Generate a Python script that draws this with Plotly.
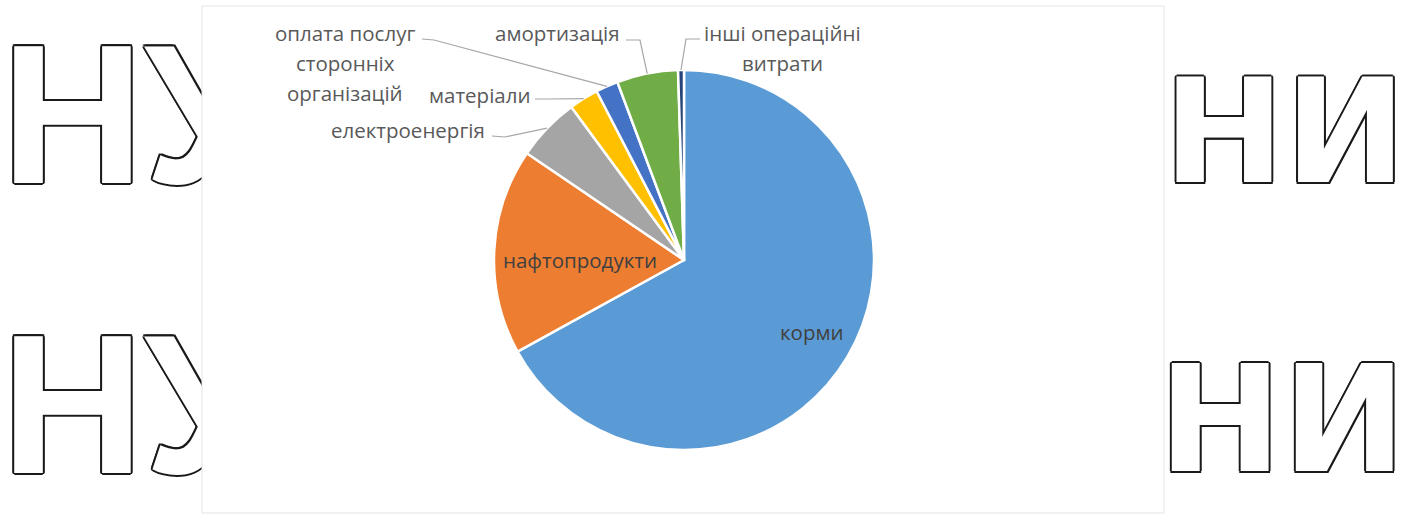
import math
import plotly.graph_objects as go

# --- data -----------------------------------------------------------------
categories = [
    "корми",
    "нафтопродукти",
    "електроенергія",
    "матеріали",
    "оплата послуг сторонніх організацій",
    "амортизація",
    "інші операційні витрати",
]
shares = [67.0, 17.5, 5.4, 2.5, 1.9, 5.2, 0.5]
slice_colors = ["#5B9BD5", "#ED7D31", "#A5A5A5", "#FFC000", "#4472C4", "#70AD47", "#264478"]

# label lines as shown on the chart
label_lines = [
    ["корми"],
    ["нафтопродукти"],
    ["електроенергія"],
    ["матеріали"],
    ["оплата послуг", "сторонніх", "організацій"],
    ["амортизація"],
    ["інші операційні", "витрати"],
]

# --- layout constants (pixels) ----------------------------------------------
W, H = 1408, 515
CX, CY, R = 684, 260, 190
LINE_H = 30
LABEL_SIZE = 20.5

# label placement: centre x, first line y, leader start, leader knee
label_place = [
    dict(x=812, y=332, start=None, knee=None, inside=True),
    dict(x=580, y=260, start=None, knee=None, inside=True),
    dict(x=408, y=130, start=(492, 136), knee=(505, 137), inside=False),
    dict(x=479, y=95, start=(535, 99), knee=(548, 99), inside=False),
    dict(x=345, y=33, start=(422, 39), knee=(434, 40), inside=False),
    dict(x=557, y=33, start=(626, 40), knee=(640, 40), inside=False),
    dict(x=782, y=33, start=(700, 39), knee=(686, 39), inside=False),
]

fig = go.Figure()

# background lettering (outlined)
outline = ", ".join(
    f"{dx}px {dy}px 0 #1a1a1a"
    for dx, dy in [(-2, 0), (2, 0), (0, -2), (0, 2), (-1.5, -1.5), (1.5, -1.5), (-1.5, 1.5), (1.5, 1.5)]
)
fig.add_trace(go.Scatter(
    x=[1, 1],
    y=[133, 423],
    text=["НУ", "НУ"],
    mode="text",
    textposition="middle right",
    textfont=dict(family="Liberation Sans", size=198, color="white",
                  weight="bold", shadow=outline),
    hoverinfo="skip",
    showlegend=False,
))
fig.add_trace(go.Scatter(
    x=[1406, 1406],
    y=[146, 434],
    text=["НИ", "НИ"],
    mode="text",
    textposition="middle left",
    textfont=dict(family="DejaVu Sans", size=[145, 148], color="white",
                  weight="bold", shadow=outline),
    hoverinfo="skip",
    showlegend=False,
))

# chart area panel
bx0, by0, bx1, by1 = 202, 6, 1164, 513
fig.add_trace(go.Scatter(
    x=[bx0, bx1, bx1, bx0, bx0],
    y=[by0, by0, by1, by1, by0],
    mode="lines",
    fill="toself",
    fillcolor="white",
    line=dict(color="#E4E4E4", width=1),
    hoverinfo="skip",
    showlegend=False,
))

# pie
fig.add_trace(go.Pie(
    labels=categories,
    values=shares,
    sort=False,
    direction="clockwise",
    rotation=0,
    marker=dict(colors=slice_colors, line=dict(color="white", width=2.5)),
    textinfo="none",
    hoverinfo="label+percent",
    showlegend=False,
    domain=dict(x=[(CX - R) / W, (CX + R) / W], y=[1 - (CY + R) / H, 1 - (CY - R) / H]),
))

# labels and leader lines
total = sum(shares)
cum = 0.0
annotations = []
shapes = []
for val, lines, place in zip(shares, label_lines, label_place):
    mid = math.radians((cum + val / 2) / total * 360)
    cum += val
    for k, line in enumerate(lines):
        annotations.append(dict(
            x=place["x"], y=place["y"] + k * LINE_H, xref="x", yref="y",
            text=line, showarrow=False, xanchor="center", yanchor="middle",
            font=dict(family="Open Sans", size=LABEL_SIZE,
                      color="#404040" if place["inside"] else "#595959"),
        ))
    if place["start"] is not None:
        ex = CX + R * math.sin(mid)
        ey = CY - R * math.cos(mid)
        (sx, sy), (kx, ky) = place["start"], place["knee"]
        shapes.append(dict(
            type="path", xref="x", yref="y", layer="above",
            path=f"M {sx} {sy} L {kx} {ky} L {ex:.1f} {ey:.1f}",
            line=dict(color="#A6A6A6", width=1.2),
        ))

fig.update_layout(
    width=W, height=H,
    margin=dict(l=0, r=0, t=0, b=0),
    paper_bgcolor="white",
    plot_bgcolor="white",
    xaxis=dict(range=[0, W], visible=False, fixedrange=True, domain=[0, 1]),
    yaxis=dict(range=[H, 0], visible=False, fixedrange=True, domain=[0, 1]),
    annotations=annotations,
    shapes=shapes,
)

fig.write_html("out.html")
